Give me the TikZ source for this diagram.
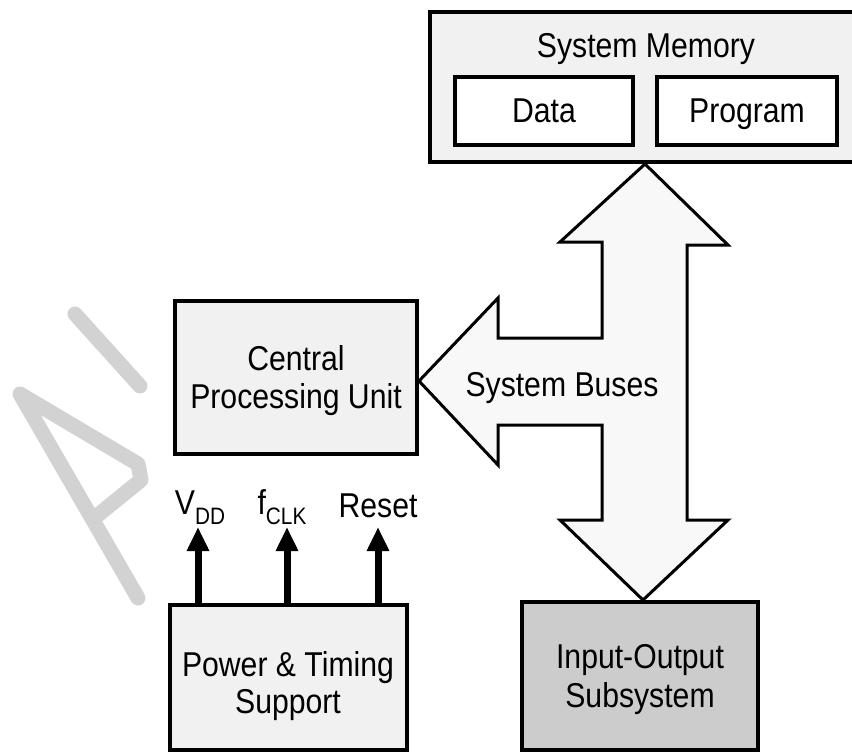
\documentclass[tikz,border=0pt]{standalone}
\usepackage{fontspec}
\usepackage{graphicx}
\setmainfont{Liberation Sans}
\usetikzlibrary{arrows.meta}
\definecolor{boxfill}{HTML}{F1F1F1}
\definecolor{iofill}{HTML}{CCCCCC}
\definecolor{busfill}{HTML}{F8F8F8}
\definecolor{wmark}{HTML}{D2D2D2}
% slightly tall lettering
\newcommand\tl[1]{\scalebox{0.99}[1.13]{#1}}
\newcommand\lowsub[1]{\raisebox{-0.3em}{\fontsize{21}{21}\selectfont #1}}
\begin{document}
\begin{tikzpicture}[x=1pt,y=-1pt,
  block/.style={draw=black, line width=4pt, fill=boxfill, rectangle, inner sep=0pt},
  lbl/.style={font=\fontsize{30.5}{37}\selectfont, anchor=base, inner sep=0pt},
  sig/.style={line width=7pt, -{Triangle[width=21pt,length=24pt]}},
  bus/.style={draw=black, line width=3pt, fill=busfill, line join=miter}
]
\useasboundingbox (0,0) rectangle (852,753);

% faint lettering in the margin
\draw[wmark, line width=15pt, line cap=round] (75,314) -- (140,386);
\draw[wmark, line width=15pt, line cap=round, line join=round]
  (138,598) -- (20,394) -- (138,464) -- (141,480) -- (98,515);

% system memory with its two parts
\node[block, minimum width=426pt, minimum height=150pt] (mem) at (643,87) {};
\node[block, fill=white, minimum width=178pt, minimum height=68pt] (data) at (544,111) {};
\node[block, fill=white, minimum width=180pt, minimum height=68pt] (prog) at (747,111) {};
\node[lbl] (memt) at (646,57) {\tl{System Memory}};
\node[lbl] (datat) at (544,122) {\tl{Data}};
\node[lbl] (progt) at (747,122) {\tl{Program}};

% processor
\node[block, minimum width=242pt, minimum height=153pt] (cpu) at (296,377.5) {};
\node[lbl] (cpu1) at (296,370) {\tl{Central}};
\node[lbl] (cpu2) at (296,408) {\tl{Processing Unit}};

% power and timing
\node[block, minimum width=237pt, minimum height=145pt] (pwr) at (288.5,677.5) {};
\node[lbl] (pwr1) at (288,676) {\tl{Power \& Timing}};
\node[lbl] (pwr2) at (288,713) {\tl{Support}};

% input-output
\node[block, fill=iofill, minimum width=236pt, minimum height=148pt] (io) at (640,676) {};
\node[lbl] (io1) at (640,668) {\tl{Input-Output}};
\node[lbl] (io2) at (640,707) {\tl{Subsystem}};

% system buses
\draw[bus] (mem.south -| 645,0) -- (728,245) -- (687,245) -- (687,520) -- (728,520)
  -- (io.north -| 643,0) -- (560,520) -- (602,520) -- (602,425) -- (498,425)
  -- (498,465) -- (cpu.east |- 0,381) -- (498,298) -- (498,338) -- (602,338)
  -- (602,242) -- (560,242) -- cycle;
\node[lbl] (bust) at (562,396) {\tl{System Buses}};

% supply, clock and reset signals
\coordinate (vddtip) at (198,527);
\coordinate (clktip) at (287,527);
\coordinate (rsttip) at (378,527);
\draw[sig] (pwr.north -| vddtip) -- (vddtip);
\draw[sig] (pwr.north -| clktip) -- (clktip);
\draw[sig] (pwr.north -| rsttip) -- (rsttip);
\node[lbl] (vdd) at (200,514) {\tl{V\lowsub{DD}}};
\node[lbl] (fclk) at (282,514) {\tl{f\lowsub{CLK}}};
\node[lbl] (rst) at (378,517) {\tl{Reset}};
\end{tikzpicture}
\end{document}
